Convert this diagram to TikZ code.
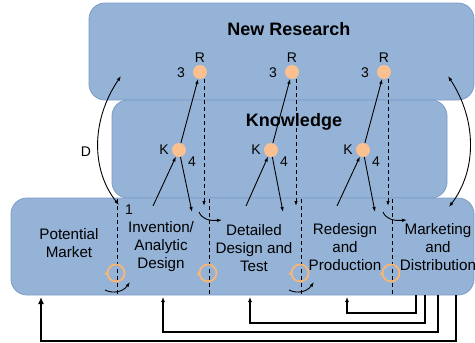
\documentclass[tikz,border=0pt]{standalone}
\usepackage{fontspec}
\setmainfont{Liberation Sans}
\usetikzlibrary{arrows.meta}
\definecolor{boxfill}{HTML}{95B3D7}
\definecolor{boxline}{HTML}{7D9CC6}
\definecolor{dotc}{HTML}{FAC08F}
\definecolor{ringc}{HTML}{F9B574}
\begin{document}
\begin{tikzpicture}[x=1pt,y=-1pt,
  box/.style={draw=boxline, fill=boxfill, rounded corners=16pt, line width=0.8pt, inner sep=0pt},
  title/.style={font=\bfseries\fontsize{18}{20}\selectfont},
  lbl/.style={align=center, font=\fontsize{15.2}{18}\selectfont, inner sep=0pt},
  sm/.style={font=\fontsize{14}{16}\selectfont, inner sep=0pt},
  dot/.style={circle, fill=dotc, minimum size=14pt, inner sep=0pt},
  ring/.style={circle, draw=ringc, line width=1.8pt, minimum size=17pt, inner sep=0pt},
  ar/.style={line width=0.9pt, -{Latex[length=5pt,width=3.5pt]}},
  dar/.style={line width=0.9pt, {Latex[length=5pt,width=3.5pt]}-{Latex[length=5pt,width=3.5pt]}},
  dsh/.style={line width=1pt, dash pattern=on 4pt off 3pt},
  fb/.style={line width=1.2pt, -{Latex[length=5pt,width=4pt]}},
  fbthick/.style={line width=2.4pt, -{Latex[length=7pt,width=6pt]}}
]
\useasboundingbox (0,0) rectangle (475,343);

% boxes
\node[box, minimum width=385pt, minimum height=97pt] (nr) at (281.5,51.5) {};
\node[box, minimum width=335pt, minimum height=98pt] (kn) at (279.5,149) {};
\node[box, minimum width=463pt, minimum height=97pt] (bx) at (242.5,246.5) {};

\node[title] (tnr) at (289,29) {New Research};
\node[title] (tkn) at (294,122) {Knowledge};

% stage texts
\node[lbl] (pm) at (69,243) {Potential\\Market};
\node[lbl] (inv) at (161,247) {Invention/\\Analytic\\Design};
\node[lbl] (det) at (254,248) {Detailed\\Design and\\Test};
\node[lbl] (red) at (345,247) {Redesign\\and\\Production};
\node[lbl] (mkt) at (438,247) {Marketing\\and\\Distribution};

% R dots
\node[dot] (r1) at (200,72) {};
\node[dot] (r2) at (292,72) {};
\node[dot] (r3) at (384,72) {};
\foreach \i/\x in {1/200,2/292,3/384}{
  \node[sm] (rl\i) at (\x,58) {R};
  \node[sm] (tl\i) at (\x-19,73) {3};
}
% K dots
\node[dot] (k1) at (179,150) {};
\node[dot] (k2) at (271,150) {};
\node[dot] (k3) at (363,150) {};
\foreach \i/\x in {1/179,2/271,3/363}{
  \node[sm] (kl\i) at (\x-15,150) {K};
  \node[sm] (fl\i) at (\x+13,162) {4};
}

% coordinates for arrows
\foreach \i/\x in {1/153,2/246,3/337}{ \coordinate (s\i) at (\x,206); }
\foreach \i/\x in {1/192,2/283,3/375}{ \coordinate (e\i) at (\x,212); }
\foreach \i/\x in {1/204,2/296,3/388}{ \coordinate (rd\i) at (\x,206); }

\foreach \i in {1,2,3}{
  \draw[ar] (s\i) -- (k\i);
  \draw[ar] (k\i) -- (e\i);
  \draw[ar] (k\i) -- (r\i);
  \draw[dsh, -{Latex[length=5pt,width=3.5pt]}] (r\i.south) ++(4,0) coordinate (rs\i) -- (rd\i);
}

% dashed verticals in bottom box with rings
\foreach \i/\x in {1/117,2/209,3/301,4/392}{
  \coordinate (vt\i) at (\x,199);
  \coordinate (vb\i) at (\x,294);
  \draw[dsh] (vt\i) -- (vb\i);
  \node[ring] (c\i) at (\x-1,273) {};
  \draw[ringc, line width=1.5pt, -{Latex[length=3pt,width=4.5pt]}] ([yshift=-2pt]c\i.west) -- ([yshift=1.5pt]c\i.west);
}

% small curved arrows
\coordinate (ca1) at (199,212); \coordinate (cb1) at (222,220);
\coordinate (ca2) at (383,212); \coordinate (cb2) at (407,220);
\draw[ar] (ca1) .. controls (202,219) and (209,221) .. (cb1);
\draw[ar] (ca2) .. controls (386,219) and (393,221) .. (cb2);
\coordinate (sa1) at (105,290); \coordinate (sb1) at (130,282);
\coordinate (sa2) at (289,290); \coordinate (sb2) at (314,282);
\draw[ar] (sa1) .. controls (113,294) and (123,292) .. (sb1);
\draw[ar] (sa2) .. controls (297,294) and (307,292) .. (sb2);

\node[sm] (one) at (129,210) {1};

% D arrow
\coordinate (dt) at (121,76); \coordinate (db) at (119,205);
\draw[dar] (dt) .. controls (91,120) and (91,170) .. (db);
\node[sm] (dl) at (86,152) {D};
% right arrow
\coordinate (qt) at (448,76); \coordinate (qb) at (449,207);
\draw[dar] (qt) .. controls (477,120) and (477,170) .. (qb);

% feedback lines
\coordinate (f0s) at (456,295); \coordinate (f0e) at (41,297);
\coordinate (f1s) at (438,295); \coordinate (f1e) at (163,297);
\coordinate (f2s) at (425,295); \coordinate (f2e) at (250,297);
\coordinate (f3s) at (416,295); \coordinate (f3e) at (347,297);
\draw[fbthick] (f0s) -- (456,341) -- (41,341) -- (f0e);
\draw[fb] (f1s) -- (438,332) -- (163,332) -- (f1e);
\draw[fb] (f2s) -- (425,323) -- (250,323) -- (f2e);
\draw[fb] (f3s) -- (416,313) -- (347,313) -- (f3e);
\end{tikzpicture}
\end{document}
